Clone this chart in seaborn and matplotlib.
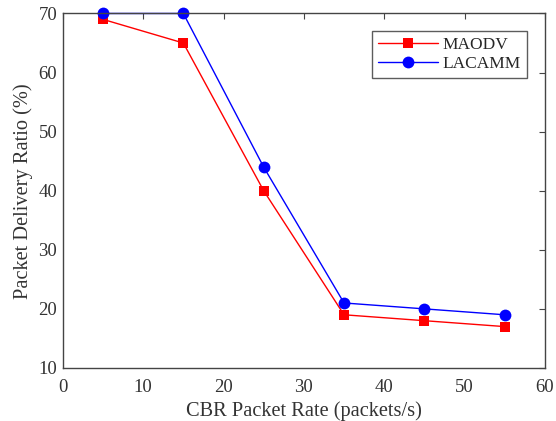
import pandas as pd
import matplotlib.pyplot as plt
import seaborn as sns

rate = [5, 15, 25, 35, 45, 55]
maodv = [69, 65, 40, 19, 18, 17]
lacamm = [70, 70, 44, 21, 20, 19]

df = pd.DataFrame({
    "rate": rate * 2,
    "pdr": maodv + lacamm,
    "protocol": ["MAODV"] * len(rate) + ["LACAMM"] * len(rate),
})

sns.set_style("white")
plt.rcParams['font.family'] = ['Liberation Serif', 'DejaVu Serif']

fig = plt.figure(figsize=(5.56, 4.21), dpi=100)
ax = fig.add_axes([0.113, 0.126, 0.867, 0.842])

sns.lineplot(data=df, x="rate", y="pdr", hue="protocol", style="protocol",
             palette={"MAODV": "#ff0000", "LACAMM": "#0000ff"},
             markers={"MAODV": "s", "LACAMM": "o"}, dashes=False,
             markersize=8, markeredgewidth=0, linewidth=1, ax=ax, clip_on=False)

# squares a bit smaller than the circles, like the original
for ln in ax.lines:
    if ln.get_marker() == "s":
        ln.set_markersize(7)
    elif ln.get_marker() == "o":
        ln.set_markersize(8.5)

ax.set_xlim(0, 60)
ax.set_ylim(10, 70)
ax.set_xticks(range(0, 61, 10))
ax.set_yticks(range(10, 71, 10))
ax.set_xlabel("CBR Packet Rate (packets/s)", fontsize=14.7, color="#333333", labelpad=4)
ax.set_ylabel("Packet Delivery Ratio (%)", fontsize=14.7, color="#333333", labelpad=4)
ax.tick_params(direction="in", top=True, right=True, length=4, labelsize=13.5,
               colors="#444444", labelcolor="#333333")
ax.tick_params(axis="x", pad=8)
ax.tick_params(axis="y", pad=4)
for s in ax.spines.values():
    s.set_color("#444444")
    s.set_linewidth(1)

leg = ax.legend(loc="upper right", bbox_to_anchor=(0.963, 0.951), borderaxespad=0,
                fontsize=12.5, frameon=True, fancybox=False, edgecolor="#333333",
                handlelength=3.4, borderpad=0.35, labelspacing=0.15, handletextpad=0.3)
leg.get_frame().set_linewidth(1)
for h in leg.legend_handles:
    if h.get_marker() == "s":
        h.set_markersize(7)
    elif h.get_marker() == "o":
        h.set_markersize(8.5)

plt.savefig("out.png", dpi=100)
